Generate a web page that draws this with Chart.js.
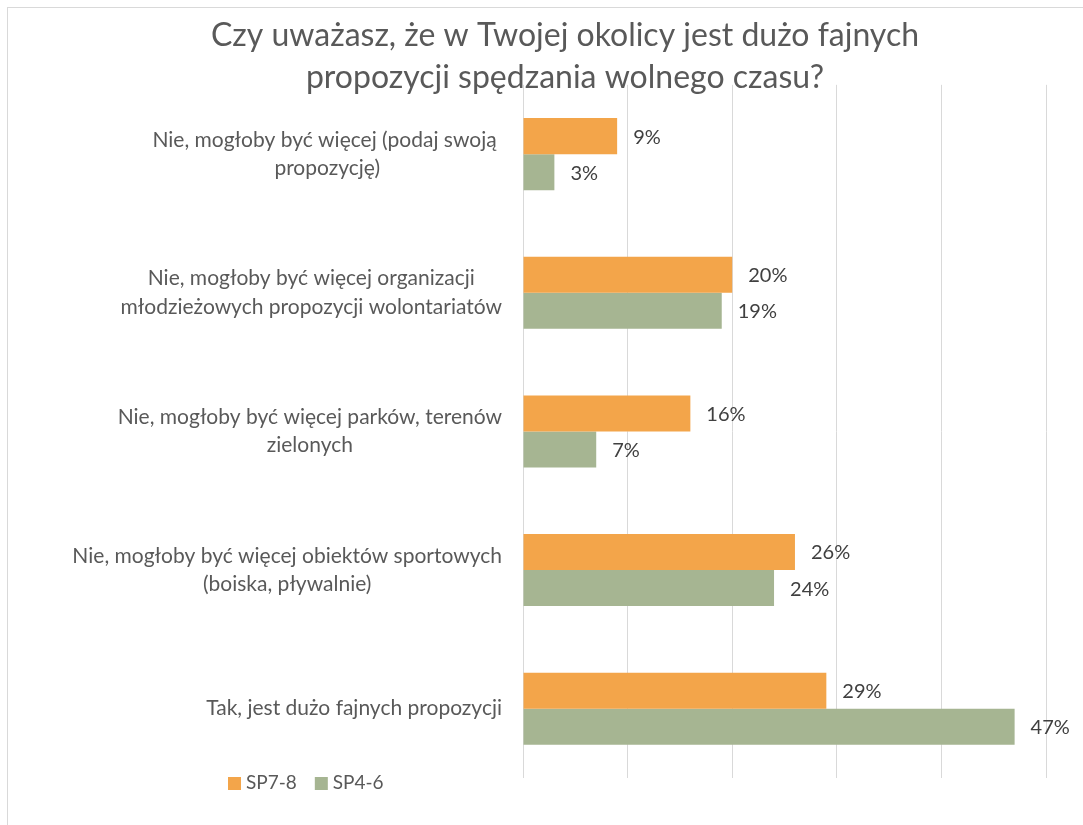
<!DOCTYPE html>
<html>
<head>
<meta charset="utf-8">
<script src="https://cdn.jsdelivr.net/npm/chart.js@4"></script>
<style>
  html, body { margin: 0; padding: 0; background: #fff; }
  canvas { display: block; }
</style>
</head>
<body>
<canvas id="opinionChart" width="1083" height="825"></canvas>
<script>
const titleLines = [
  'Czy uważasz, że w Twojej okolicy jest dużo fajnych',
  'propozycji spędzania wolnego czasu?'
];

const categories = [
  ['Nie, mogłoby być więcej (podaj swoją ', 'propozycję)'],
  ['Nie, mogłoby być więcej organizacji', 'młodzieżowych propozycji wolontariatów'],
  ['Nie, mogłoby być więcej parków, terenów', 'zielonych'],
  ['Nie, mogłoby być więcej obiektów sportowych', '(boiska, pływalnie)'],
  ['Tak, jest dużo fajnych propozycji']
];

const seriesNames = ['SP7-8', 'SP4-6'];
const sp78 = [9, 20, 16, 26, 29];
const sp46 = [3, 19, 7, 24, 47];

const FONT = 'Lato';
const GRID = '#d9d9d9';
const TEXT = '#595959';

// outer frame of the chart
const framePlugin = {
  id: 'frame',
  beforeDraw(chart) {
    const ctx = chart.ctx;
    ctx.save();
    ctx.strokeStyle = GRID;
    ctx.lineWidth = 1;
    ctx.strokeRect(7.5, 7.5, 2000, 2000);
    ctx.restore();
  }
};

// category labels: block right-aligned to the axis, lines centred in the block
const categoryLabels = {
  id: 'categoryLabels',
  afterDraw(chart) {
    const ctx = chart.ctx;
    const y = chart.scales.y;
    const right = chart.chartArea.left - 21;
    const lineH = 28.5;
    ctx.save();
    ctx.font = '21px ' + FONT;
    ctx.fillStyle = TEXT;
    ctx.textAlign = 'center';
    ctx.textBaseline = 'middle';
    chart.data.labels.forEach((lines, i) => {
      const cy = y.getPixelForValue(i);
      const boxW = Math.max(...lines.map(l => ctx.measureText(l).width));
      const cx = right - boxW / 2;
      lines.forEach((l, j) => {
        ctx.fillText(l, cx, cy + (j - (lines.length - 1) / 2) * lineH);
      });
    });
    ctx.restore();
  }
};

// value labels just past the end of each bar
const valueLabels = {
  id: 'valueLabels',
  afterDatasetsDraw(chart) {
    const ctx = chart.ctx;
    ctx.save();
    ctx.font = '20px ' + FONT;
    ctx.fillStyle = '#404040';
    ctx.textAlign = 'left';
    ctx.textBaseline = 'middle';
    chart.data.datasets.forEach((ds, di) => {
      chart.getDatasetMeta(di).data.forEach((bar, i) => {
        ctx.fillText(ds.data[i] + '%', bar.x + 16, bar.y + 1);
      });
    });
    ctx.restore();
  }
};

// legend under the category labels
const bottomLegend = {
  id: 'bottomLegend',
  afterDraw(chart) {
    const ctx = chart.ctx;
    let x = 228;
    const cy = 783;
    ctx.save();
    ctx.font = '19px ' + FONT;
    ctx.textBaseline = 'middle';
    ctx.textAlign = 'left';
    chart.data.datasets.forEach(ds => {
      ctx.fillStyle = ds.backgroundColor;
      ctx.fillRect(x, cy - 6, 13, 13);
      ctx.fillStyle = TEXT;
      ctx.fillText(ds.label, x + 18, cy);
      x += 18 + ctx.measureText(ds.label).width + 18;
    });
    ctx.restore();
  }
};

const data = {
  labels: categories,
  datasets: [
    {
      label: seriesNames[0],
      data: sp78,
      backgroundColor: '#F3A54A',
      borderWidth: 0
    },
    {
      label: seriesNames[1],
      data: sp46,
      backgroundColor: '#A6B592',
      borderWidth: 0
    }
  ]
};

const config = {
  type: 'bar',
  data: data,
  options: {
    indexAxis: 'y',
    responsive: false,
    animation: false,
    datasets: {
      bar: { categoryPercentage: 0.52, barPercentage: 1.0 }
    },
    layout: {
      padding: { left: 84, right: 37, top: 0, bottom: 47 }
    },
    scales: {
      x: {
        min: 0,
        max: 50,
        ticks: { display: false, stepSize: 10 },
        grid: { color: GRID, lineWidth: 1, drawTicks: false },
        border: { display: false },
        afterFit: s => { s.height = 0; }
      },
      y: {
        ticks: { display: false },
        grid: { display: false },
        border: { display: false },
        afterFit: s => { s.width = 439; }
      }
    },
    plugins: {
      legend: { display: false },
      tooltip: { enabled: false },
      title: {
        display: true,
        text: titleLines,
        color: TEXT,
        font: { family: FONT, size: 32, weight: 'normal', lineHeight: 1.31 },
        padding: { top: 15, bottom: -14 }
      }
    }
  },
  plugins: [framePlugin, categoryLabels, valueLabels, bottomLegend]
};

new Chart(document.getElementById('opinionChart'), config);
</script>
</body>
</html>
